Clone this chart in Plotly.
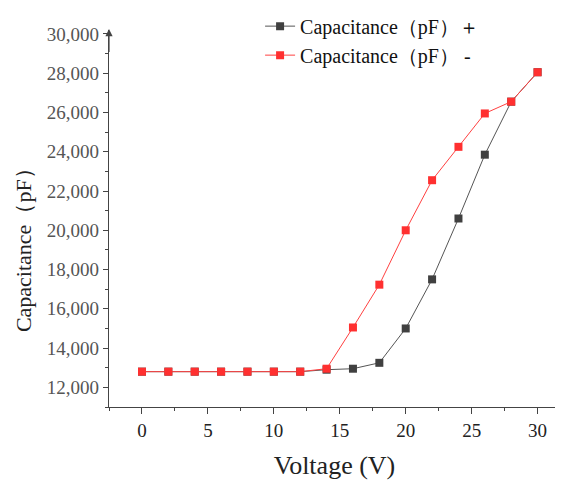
import plotly.graph_objects as go

voltage = [0, 2, 4, 6, 8, 10, 12, 14, 16, 18, 20, 22, 24, 26, 28, 30]
cap_plus = [12800, 12800, 12800, 12800, 12800, 12800, 12800, 12900, 12950, 13250, 15000, 17500, 20600, 23850, 26550, 28050]
cap_minus = [12800, 12800, 12800, 12800, 12800, 12800, 12800, 12950, 15050, 17230, 20000, 22550, 24250, 25950, 26550, 28050]
x_ticks = [0, 5, 10, 15, 20, 25, 30]
y_ticks = [12000, 14000, 16000, 18000, 20000, 22000, 24000, 26000, 28000, 30000]

serif = "Liberation Serif, Times New Roman, serif"

fig = go.Figure()
fig.add_trace(go.Scatter(
    x=voltage, y=cap_plus, mode="lines+markers",
    name="Capacitance（pF）＋",
    line=dict(color="#555555", width=1),
    marker=dict(symbol="square", size=8, color="#404040"),
))
fig.add_trace(go.Scatter(
    x=voltage, y=cap_minus, mode="lines+markers",
    name="Capacitance（pF） -",
    line=dict(color="#ff4040", width=1),
    marker=dict(symbol="square", size=8, color="#ff3030"),
))

fig.add_annotation(
    x=-2.5, y=30250, ax=-2.5, ay=29000, xref="x", yref="y", axref="x", ayref="y",
    showarrow=True, arrowhead=2, arrowsize=1.2, arrowwidth=1.2, arrowcolor="#444444", text="",
)

# y-axis title placed as rotated text (sits slightly below the axis centre in the reference)
fig.add_annotation(
    text="Capacitance（pF）", xref="paper", yref="paper", x=-0.188, y=0.43,
    xanchor="center", yanchor="middle", textangle=-90, showarrow=False,
    font=dict(family=serif, size=22, color="#222222"),
)

# page body has an 8px margin, so the figure is 8px smaller and margins shifted
fig.update_layout(
    width=555, height=475,
    margin=dict(l=101, r=3, t=22, b=76, autoexpand=False),
    paper_bgcolor="white", plot_bgcolor="white",
    font=dict(family=serif, color="#333333"),
    showlegend=True,
    legend=dict(
        x=0.335, y=1.062, xanchor="left", yanchor="top",
        font=dict(family=serif, size=20, color="#111111"),
        bgcolor="rgba(0,0,0,0)", tracegroupgap=0, itemwidth=30,
    ),
    xaxis=dict(
        range=[-2.5, 31.7], automargin=False,
        tickmode="array", tickvals=x_ticks,
        ticks="outside", ticklen=6, tickcolor="#444444",
        minor=dict(dtick=2.5, tick0=0, ticks="outside", ticklen=3, tickcolor="#444444"),
        showline=True, linecolor="#444444", linewidth=1.2,
        showgrid=False, zeroline=False,
        tickfont=dict(family=serif, size=19, color="#222222"),
        title=dict(text="Voltage (V)", font=dict(family=serif, size=26, color="#222222"), standoff=15),
    ),
    yaxis=dict(
        range=[11000, 30200], automargin=False,
        tickmode="array", tickvals=y_ticks, tickformat=",d",
        ticks="outside", ticklen=5, tickcolor="#444444",
        minor=dict(dtick=1000, tick0=11000, ticks="outside", ticklen=3, tickcolor="#444444"),
        showline=True, linecolor="#444444", linewidth=1.2,
        showgrid=False, zeroline=False,
        tickfont=dict(family=serif, size=19, color="#555555"),
    ),
)

fig.write_html("out.html")
